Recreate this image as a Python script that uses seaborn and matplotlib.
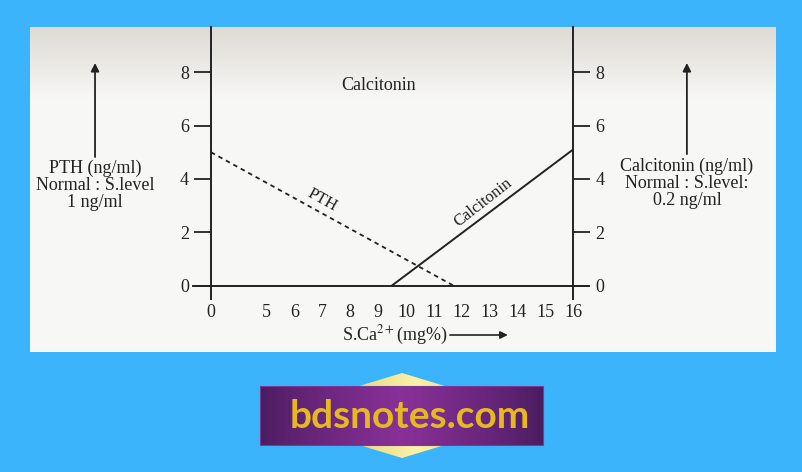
import numpy as np
import pandas as pd
import matplotlib
matplotlib.use("Agg")
import matplotlib.pyplot as plt
from matplotlib.patches import Polygon, Rectangle
import seaborn as sns

# ---------------- data ----------------
x_tick_values = [0, 5, 6, 7, 8, 9, 10, 11, 12, 13, 14, 15, 16]
y_tick_values = [0, 2, 4, 6, 8]
pth_ca = [0, 11.7]
pth_level = [5.0, 0.0]
calc_ca = [9.5, 16]
calc_level = [0.0, 5.1]

left_label = "PTH (ng/ml)\nNormal : S.level\n1 ng/ml"
right_label = "Calcitonin (ng/ml)\nNormal : S.level:\n0.2 ng/ml"


def brk(v):
    """broken x axis: 0 is drawn two units left of 5"""
    v = np.asarray(v, dtype=float)
    return np.where(v < 5, 3 + v * 0.4, v)


sns.set_style("white")
plt.rcParams["font.family"] = ["Liberation Serif", "DejaVu Serif"]
plt.rcParams["mathtext.fontset"] = "stix"

W, H = 803, 472
fig = plt.figure(figsize=(W / 100, H / 100), dpi=100)
fig.patch.set_facecolor("#3BB4FC")

INK = "#222222"

# panel (photo) axes
px0, px1, py0, py1 = 30, 776, 27, 352
ax = fig.add_axes([px0 / W, 1 - py1 / H, (px1 - px0) / W, (py1 - py0) / H])
ax.set_facecolor("#f7f7f5")

# grey gradient at top of photo
grad = np.linspace(0, 1, 100)[:, None]
top = np.array([222, 218, 212]) / 255
bot = np.array([247, 247, 245]) / 255
img = top[None, None, :] * (1 - grad[:, :, None]) + bot[None, None, :] * grad[:, :, None]
ax.imshow(img, extent=[0, 1, 0.78, 1], transform=ax.transAxes, aspect="auto",
          zorder=0, interpolation="bilinear")

sns.lineplot(x=brk(pth_ca), y=pth_level, ax=ax, color=INK, lw=1.3,
             linestyle=(0, (2.5, 2.2)), zorder=3)
sns.lineplot(x=brk(calc_ca), y=calc_level, ax=ax, color=INK, lw=1.4, zorder=3)

ax.set_xlim(-3.50, 23.29)
ax.set_ylim(-2.495, 9.70)

ax.spines["top"].set_visible(False)
ax.spines["left"].set_position(("data", 3))
ax.spines["right"].set_position(("data", 16))
ax.spines["bottom"].set_position(("data", 0))
ax.spines["left"].set_bounds(-0.5, 9.70)
ax.spines["right"].set_bounds(-0.5, 9.70)
ax.spines["bottom"].set_bounds(2.35, 16.54)
for s in ["left", "right", "bottom"]:
    ax.spines[s].set_color(INK)
    ax.spines[s].set_linewidth(1.4)
    ax.spines[s].set_visible(True)

ax.set_xticks(brk(x_tick_values))
ax.set_xticklabels([str(v) for v in x_tick_values])
ax.set_yticks(y_tick_values)
ax.set_yticklabels([str(v) for v in y_tick_values])
ax.tick_params(axis="x", direction="out", length=9, width=1.3, color=INK,
               labelsize=13, labelcolor=INK, pad=4)
ax.tick_params(axis="y", direction="out", length=12, width=1.3, color=INK,
               left=True, right=True, labelleft=True, labelright=True,
               labelsize=13, labelcolor=INK, pad=4)
ax.grid(False)

# labels in the plot
ax.text(9.03, 7.49, "Calcitonin", ha="center", va="center", fontsize=13, color=INK)
ax.text(7.0, 3.2, "PTH", ha="center", va="center", fontsize=12, color=INK,
        rotation=-29, rotation_mode="anchor")
ax.text(12.77, 3.13, "Calcitonin", ha="center", va="center", fontsize=12, color=INK,
        rotation=38, rotation_mode="anchor")

# x axis title with arrow
ax.text(9.59, -1.857, "S.Ca$^{2+}$(mg%)", ha="center", va="center", fontsize=13, color=INK)
ax.annotate("", xy=(13.66, -1.857), xytext=(11.58, -1.857),
            arrowprops=dict(arrowstyle="-|>", lw=1.2, color=INK, mutation_scale=11,
                            shrinkA=0, shrinkB=0))

# side annotations
ax.text(-1.165, 3.74, left_label, ha="center", va="center", fontsize=13,
        color=INK, linespacing=1.0)
ax.annotate("", xy=(-1.165, 8.35), xytext=(-1.165, 4.82),
            arrowprops=dict(arrowstyle="-|>", lw=1.3, color=INK, mutation_scale=12,
                            shrinkA=0, shrinkB=0))
ax.text(20.09, 3.82, right_label, ha="center", va="center", fontsize=13,
        color=INK, linespacing=1.0)
ax.annotate("", xy=(20.09, 8.35), xytext=(20.09, 4.93),
            arrowprops=dict(arrowstyle="-|>", lw=1.3, color=INK, mutation_scale=12,
                            shrinkA=0, shrinkB=0))

# ---------------- logo ----------------
lax = fig.add_axes([0, 0, 1, 1], zorder=-1)
lax.set_xlim(0, W)
lax.set_ylim(H, 0)
lax.axis("off")
lax.patch.set_alpha(0)

gx = np.linspace(0, 1, 200)
gold_l = np.array([0.83, 0.68, 0.25])
gold_c = np.array([0.98, 0.95, 0.66])
t = 1 - np.abs(gx - 0.55) / 0.55
t = np.clip(t, 0, 1)[None, :, None]
gold_img = gold_l[None, None, :] * (1 - t) + gold_c[None, None, :] * t
dia = Polygon([(402, 373), (542, 415.5), (402, 458), (262, 415.5)], closed=True,
              facecolor="none", edgecolor="none")
lax.add_patch(dia)
gi = lax.imshow(np.repeat(gold_img, 2, axis=0), extent=[262, 542, 458, 373],
                aspect="auto", interpolation="bilinear", zorder=1)
gi.set_clip_path(dia)

pur_e = np.array([0.29, 0.11, 0.37])
pur_c = np.array([0.54, 0.19, 0.60])
tp = 1 - np.abs(gx - 0.5) / 0.5
tp = np.clip(tp, 0, 1) ** 0.8
tp = tp[None, :, None]
pur_img = pur_e[None, None, :] * (1 - tp) + pur_c[None, None, :] * tp
lax.imshow(np.repeat(pur_img, 2, axis=0), extent=[260, 543, 445, 386],
           aspect="auto", interpolation="bilinear", zorder=2)
lax.add_patch(Rectangle((260, 386), 283, 59, facecolor="none",
                        edgecolor="#7a3a9a", lw=0.8, zorder=3))
lax.text(410, 428, "bdsnotes.com", ha="center", va="baseline", fontsize=28,
         fontweight="bold", color="#E6B822", family=["Lato", "DejaVu Sans"], zorder=4)

fig.savefig("out.png", dpi=100, facecolor=fig.get_facecolor())
